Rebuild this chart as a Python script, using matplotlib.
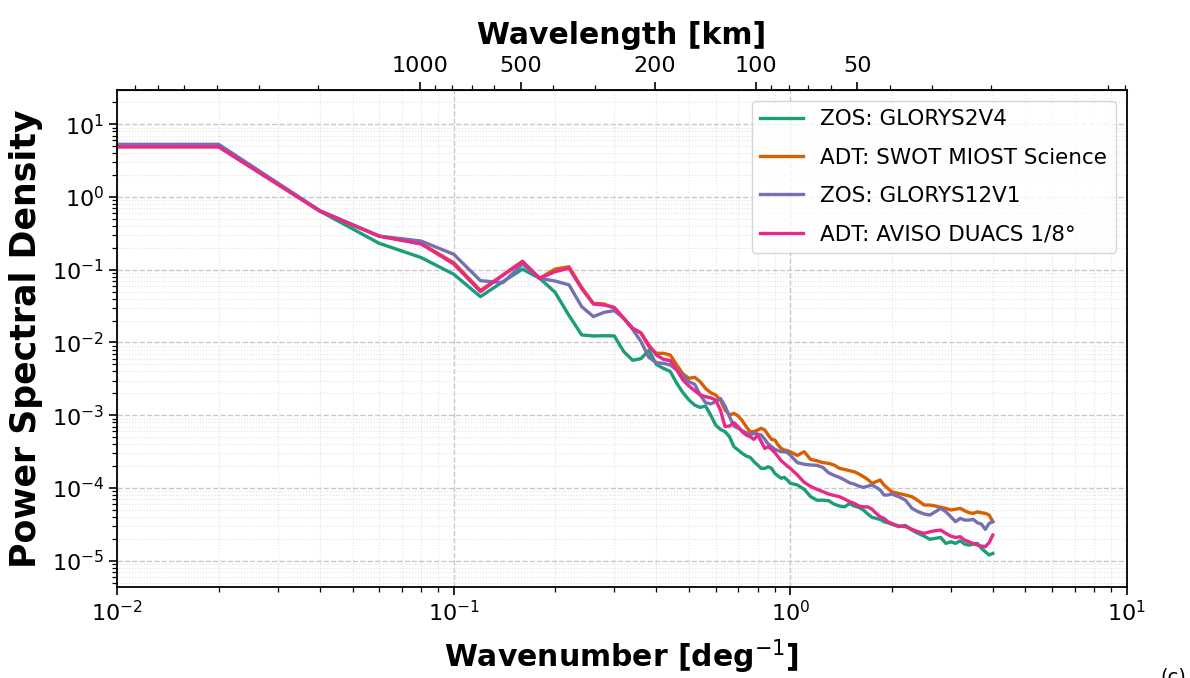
import numpy as np
import matplotlib.pyplot as plt
from matplotlib.ticker import LogLocator, NullFormatter

# wavenumber samples [deg^-1]
wavenumber = np.round(np.r_[0.01,
                            np.arange(0.02, 1.001, 0.02),
                            np.arange(1.05, 2.001, 0.05),
                            np.arange(2.1, 4.001, 0.1)], 2)

psd_glorys2v4 = [
    5.2, 5.2, 0.64, 0.231, 0.147, 0.0866, 0.0427, 0.0686, 0.102, 0.0762,
    0.049, 0.0235, 0.0127, 0.0123, 0.0124, 0.0123, 0.0075, 0.0057, 0.0060, 0.0078,
    0.0050, 0.0044, 0.0040, 0.00275, 0.00204, 0.00162, 0.00138, 0.00128, 0.00134, 0.00101,
    7.34e-4, 6.4e-4, 5.94e-4, 5.07e-4, 3.7e-4, 3.33e-4, 2.99e-4, 2.75e-4, 2.64e-4, 2.3e-4,
    2.07e-4, 1.86e-4, 1.86e-4, 1.96e-4, 1.86e-4, 1.59e-4, 1.46e-4, 1.36e-4, 1.4e-4, 1.29e-4,
    1.16e-4,
    1.1e-4, 9.6e-5, 7.6e-5, 6.8e-5, 6.8e-5, 6.7e-5, 6.0e-5, 5.65e-5, 5.5e-5, 6.1e-5,
    5.65e-5, 5.4e-5, 4.98e-5, 4.39e-5, 3.95e-5, 3.82e-5, 3.7e-5, 3.44e-5, 3.33e-5, 3.19e-5,
    2.94e-5, 3.06e-5, 2.64e-5, 2.38e-5, 2.18e-5, 1.97e-5, 2.03e-5, 2.09e-5, 1.73e-5, 1.82e-5,
    1.73e-5, 1.88e-5, 1.69e-5, 1.64e-5, 1.69e-5, 1.73e-5, 1.48e-5, 1.33e-5, 1.2e-5, 1.26e-5,
]

psd_swot_miost = [
    4.9, 4.9, 0.64, 0.29, 0.229, 0.125, 0.052, 0.085, 0.131, 0.0762,
    0.102, 0.110, 0.057, 0.0345, 0.0338, 0.0296, 0.0215, 0.0157, 0.0134, 0.00877,
    0.0071, 0.0071, 0.00673, 0.00491, 0.00369, 0.00322, 0.00332, 0.00289, 0.00234, 0.00204,
    0.0019, 0.00162, 0.00118, 0.00101, 0.00106, 9.77e-4, 8.42e-4, 6.97e-4, 5.94e-4, 5.94e-4,
    6.27e-4, 6.61e-4, 6.27e-4, 5.35e-4, 4.66e-4, 4.56e-4, 3.9e-4, 3.5e-4, 3.33e-4, 3.26e-4,
    3.15e-4,
    2.8e-4, 3.15e-4, 2.47e-4, 2.37e-4, 2.23e-4, 2.18e-4, 2.07e-4, 1.86e-4, 1.8e-4, 1.73e-4,
    1.67e-4, 1.56e-4, 1.43e-4, 1.31e-4, 1.16e-4, 1.22e-4, 1.29e-4, 1.1e-4, 9.9e-5, 8.9e-5,
    8.4e-5, 8.0e-5, 7.6e-5, 6.7e-5, 5.83e-5, 5.83e-5, 5.65e-5, 5.42e-5, 5.25e-5, 4.98e-5,
    5.1e-5, 5.25e-5, 4.87e-5, 4.57e-5, 4.48e-5, 4.7e-5, 4.57e-5, 4.48e-5, 4.25e-5, 3.44e-5,
]

psd_glorys12v1 = [
    5.3, 5.3, 0.65, 0.29, 0.248, 0.163, 0.0708, 0.0665, 0.12, 0.0762,
    0.070, 0.062, 0.0311, 0.0227, 0.026, 0.0274, 0.0215, 0.0152, 0.0103, 0.00625,
    0.00528, 0.00517, 0.00491, 0.00419, 0.00346, 0.00289, 0.00266, 0.0019, 0.00149, 0.00143,
    0.00153, 0.0017, 0.00134, 9.55e-4, 7.11e-4, 6.61e-4, 6.14e-4, 5.75e-4, 5.35e-4, 5.64e-4,
    5.52e-4, 5.35e-4, 4.66e-4, 4.02e-4, 3.7e-4, 3.4e-4, 3.26e-4, 3.15e-4, 3.15e-4, 3.06e-4,
    2.84e-4,
    2.23e-4, 2.12e-4, 2.07e-4, 2.05e-4, 1.92e-4, 1.62e-4, 1.49e-4, 1.4e-4, 1.29e-4, 1.18e-4,
    1.13e-4, 1.06e-4, 1.02e-4, 1.06e-4, 1.1e-4, 1.02e-4, 9.4e-5, 8.0e-5, 8.0e-5, 8.26e-5,
    7.6e-5, 6.8e-5, 5.25e-5, 4.72e-5, 4.39e-5, 4.25e-5, 4.72e-5, 5.25e-5, 4.72e-5, 4.03e-5,
    3.44e-5, 3.82e-5, 3.62e-5, 3.62e-5, 3.7e-5, 3.33e-5, 3.19e-5, 2.7e-5, 3.26e-5, 3.44e-5,
]

psd_aviso_duacs = [
    4.9, 4.9, 0.64, 0.29, 0.226, 0.12, 0.050, 0.084, 0.129, 0.0762,
    0.094, 0.105, 0.055, 0.0338, 0.0327, 0.0304, 0.0215, 0.0157, 0.0136, 0.00925,
    0.00673, 0.00587, 0.00563, 0.00419, 0.00305, 0.00252, 0.00218, 0.0019, 0.0018, 0.00174,
    0.00162, 0.00118, 6.97e-4, 7.11e-4, 7.9e-4, 6.97e-4, 5.94e-4, 5.35e-4, 5.07e-4, 4.66e-4,
    5.35e-4, 4.33e-4, 3.5e-4, 3.7e-4, 3.4e-4, 3.06e-4, 2.69e-4, 2.37e-4, 2.18e-4, 2.0e-4,
    1.86e-4,
    1.51e-4, 1.2e-4, 1.05e-4, 9.6e-5, 8.9e-5, 8.26e-5, 7.9e-5, 7.6e-5, 7.05e-5, 6.5e-5,
    6.15e-5, 5.65e-5, 5.5e-5, 5.5e-5, 5.1e-5, 4.48e-5, 4.03e-5, 3.82e-5, 3.44e-5, 3.26e-5,
    3.0e-5, 2.94e-5, 2.7e-5, 2.5e-5, 2.38e-5, 2.5e-5, 2.59e-5, 2.64e-5, 2.38e-5, 2.18e-5,
    2.09e-5, 2.14e-5, 1.92e-5, 1.82e-5, 1.73e-5, 1.64e-5, 1.59e-5, 1.56e-5, 1.77e-5, 2.25e-5,
]

labels = ["ZOS: GLORYS2V4", "ADT: SWOT MIOST Science",
          "ZOS: GLORYS12V1", "ADT: AVISO DUACS 1/8°"]
colors = ["#1b9e77", "#d95f02", "#7570b3", "#e7298a"]

wavelength_ticks = [1000, 500, 200, 100, 50]
KM_PER_DEG = 79.1


def inv_km(x):
    x = np.array(x, dtype=float)
    x[np.isclose(x, 0)] = np.inf
    return KM_PER_DEG / x


fig = plt.figure(figsize=(11.9, 6.78), dpi=100)
ax = fig.add_axes([0.0986, 0.1347, 0.8482, 0.7326])

for psd, lab, col in zip([psd_glorys2v4, psd_swot_miost, psd_glorys12v1, psd_aviso_duacs],
                         labels, colors):
    ax.plot(wavenumber, psd, color=col, lw=2.4, label=lab)

ax.set_xscale("log")
ax.set_yscale("log")
ax.set_xlim(1e-2, 1e1)
ax.set_ylim(4.4e-6, 29.6)

ax.grid(which="major", ls="--", color="#c8c8c8", lw=1.0)
ax.grid(which="minor", ls=":", color="#e2e2e2", lw=0.8)
ax.yaxis.set_minor_locator(LogLocator(base=10, subs=np.arange(2, 10), numticks=20))
ax.yaxis.set_minor_formatter(NullFormatter())
ax.tick_params(which="major", labelsize=16, length=6, width=1.2)
ax.tick_params(which="minor", length=3.5, width=0.9)
for sp in ax.spines.values():
    sp.set_linewidth(1.3)

ax.set_xlabel("Wavenumber [deg$^{-1}$]", fontsize=21.5, fontweight="bold", labelpad=9)
ax.set_ylabel("Power Spectral Density", fontsize=25, fontweight="bold", labelpad=6)

secax = ax.secondary_xaxis("top", functions=(inv_km, inv_km))
secax.set_xticks(wavelength_ticks, [str(w) for w in wavelength_ticks])
secax.xaxis.set_minor_locator(LogLocator(base=10, subs=np.arange(2, 10), numticks=20))
secax.xaxis.set_minor_formatter(NullFormatter())
secax.tick_params(which="major", labelsize=16, length=6, width=1.2, pad=4)
secax.tick_params(which="minor", length=3.5, width=0.9)
secax.set_xlabel("Wavelength [km]", fontsize=21.5, fontweight="bold", labelpad=9)

ax.legend(loc="upper right", fontsize=15.5, framealpha=0.8,
          labelspacing=0.85, handlelength=2.0)

fig.text(0.997, 0.016, "(c)", fontsize=14, ha="right", va="top")

fig.savefig("out.png", dpi=100)
